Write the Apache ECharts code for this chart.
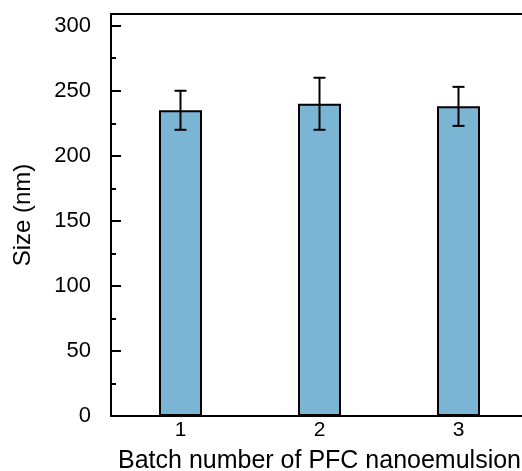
<!DOCTYPE html>
<html>
<head>
<meta charset="utf-8">
<script src="https://cdn.jsdelivr.net/npm/echarts@6/dist/echarts.min.js"></script>
<style>
  html, body { margin: 0; padding: 0; background: #fff; }
  #chart { width: 522px; height: 471px; }
</style>
</head>
<body>
<div id="chart"></div>
<script>
// 数据
const batches = ['1', '2', '3'];
const sizes = [235, 240, 238];
const errors = [15, 20, 15];
const majorTicks = [0, 50, 100, 150, 200, 250, 300];
const minorTicks = [25, 75, 125, 175, 225, 275];

const chart = echarts.init(document.getElementById('chart'));
const font = 'Liberation Sans';

const errData = sizes.map((v, i) => [i, v - errors[i], v + errors[i]]);

const option = {
  animation: false,
  grid: { left: 111, right: -6, top: 14, bottom: 55, outerBoundsMode: 'none' },
  xAxis: [
    {
      type: 'category',
      data: batches,
      name: 'Batch number of PFC nanoemulsion',
      nameLocation: 'middle',
      nameGap: 33,
      nameTextStyle: { fontFamily: font, fontSize: 25, color: '#000' },
      axisLine: { lineStyle: { color: '#000', width: 2 } },
      axisTick: { show: false },
      axisLabel: { fontFamily: font, fontSize: 21, color: '#000', margin: 4 }
    },
    {
      type: 'category',
      data: batches,
      position: 'top',
      axisLine: { show: true, onZero: false, lineStyle: { color: '#000', width: 2 } },
      axisTick: { show: false },
      axisLabel: { show: false }
    }
  ],
  yAxis: [
    {
      type: 'value',
      min: 0,
      max: 309,
      name: 'Size (nm)',
      nameLocation: 'middle',
      nameGap: 76,
      nameTextStyle: { fontFamily: font, fontSize: 24, color: '#000' },
      splitLine: { show: false },
      axisLine: { show: true, lineStyle: { color: '#000', width: 2 } },
      axisTick: { show: true, inside: true, length: 10, customValues: majorTicks,
        lineStyle: { color: '#000', width: 2 } },
      axisLabel: { customValues: majorTicks, fontFamily: font, fontSize: 22, color: '#000', margin: 20 }
    },
    {
      type: 'value',
      min: 0,
      max: 309,
      position: 'left',
      splitLine: { show: false },
      axisLine: { show: false },
      axisTick: { show: true, inside: true, length: 5, customValues: minorTicks,
        lineStyle: { color: '#000', width: 2 } },
      axisLabel: { show: false }
    }
  ],
  series: [
    {
      type: 'bar',
      data: sizes,
      barWidth: 43,
      itemStyle: { color: '#7bb5d4', borderColor: '#000', borderWidth: 2 }
    },
    {
      type: 'custom',
      data: errData,
      z: 10,
      renderItem: (params, api) => {
        const x = api.value(0);
        const lo = api.coord([x, api.value(1)]);
        const hi = api.coord([x, api.value(2)]);
        const cap = 6;
        const style = { stroke: '#000', lineWidth: 2 };
        return {
          type: 'group',
          children: [
            { type: 'line', shape: { x1: lo[0], y1: lo[1], x2: hi[0], y2: hi[1] }, style },
            { type: 'line', shape: { x1: hi[0] - cap, y1: hi[1], x2: hi[0] + cap, y2: hi[1] }, style },
            { type: 'line', shape: { x1: lo[0] - cap, y1: lo[1], x2: lo[0] + cap, y2: lo[1] }, style }
          ]
        };
      }
    }
  ]
};

chart.setOption(option);
</script>
</body>
</html>
